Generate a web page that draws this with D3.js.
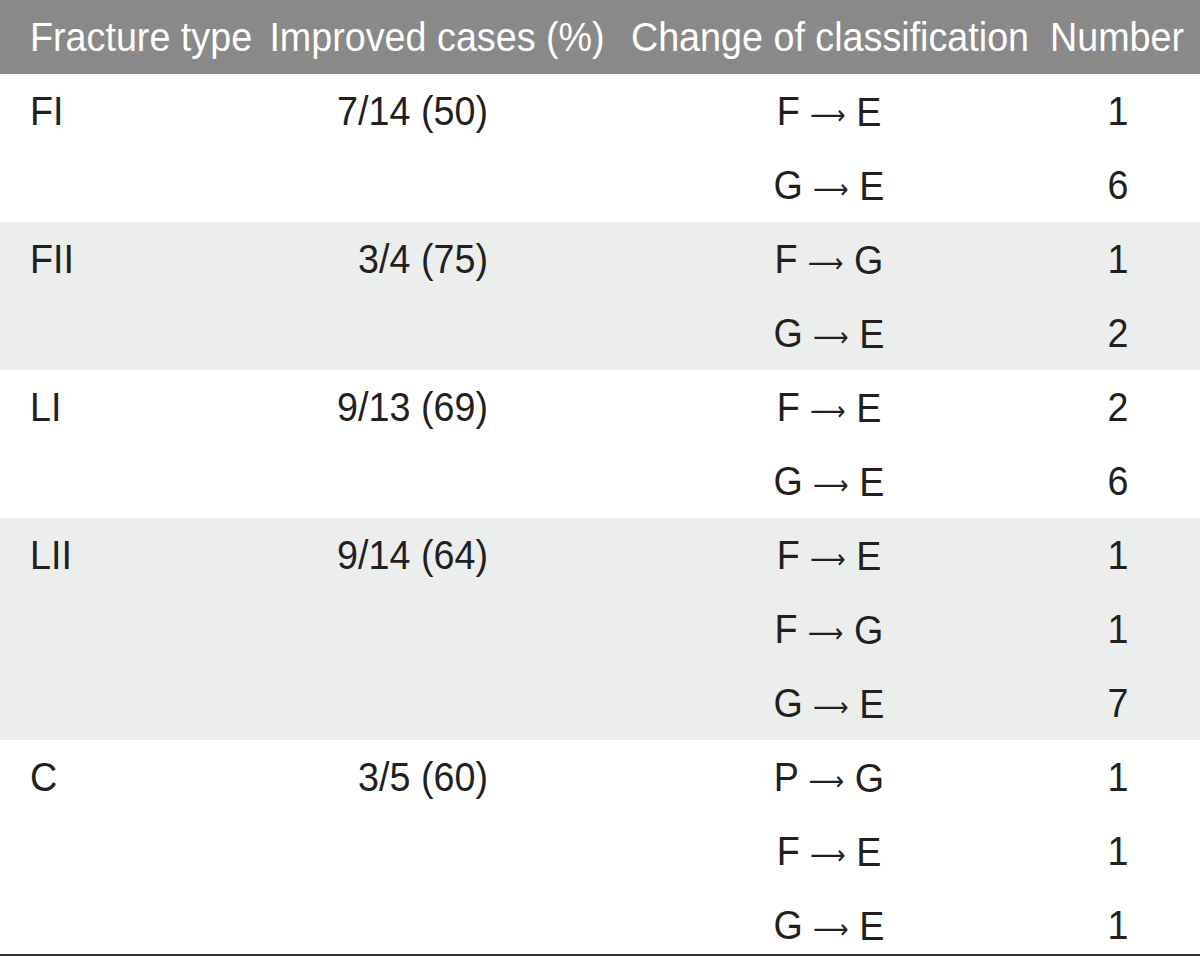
<!DOCTYPE html>
<html>
<head>
<meta charset="utf-8">
<script src="https://cdn.jsdelivr.net/npm/d3@7"></script>
<style>
  body { margin: 0; background: #fff; }
  text { font-family: "Liberation Sans", Arial, sans-serif; }
</style>
</head>
<body>
<svg id="chart"></svg>
<script>
const width = 1200;
const height = 956;

// table data
const headers = ["Fracture type", "Improved cases (%)", "Change of classification", "Number"];
const groups = ["FI", "FII", "LI", "LII", "C"];
const improved = ["7/14 (50)", "3/4 (75)", "9/13 (69)", "9/14 (64)", "3/5 (60)"];
const rowGroup = ["FI", "FI", "FII", "FII", "LI", "LI", "LII", "LII", "LII", "C", "C", "C"];
const changeFrom = ["F", "G", "F", "G", "F", "G", "F", "F", "G", "P", "F", "G"];
const changeTo = ["E", "E", "G", "E", "E", "E", "E", "G", "E", "G", "E", "E"];
const numbers = [1, 6, 1, 2, 2, 6, 1, 1, 7, 1, 1, 1];

const headerH = 74;
const rowH = 74;
const fontSize = 41;
const squeeze = 0.92;   // the original typeface is a bit narrower than Liberation Sans
const textColor = "#231f20";

const svg = d3.select("#chart")
    .attr("width", width)
    .attr("height", height);

const y = d3.scaleBand()
    .domain(d3.range(changeFrom.length))
    .range([headerH, headerH + rowH * changeFrom.length]);

function cell(x, yc, anchor, color) {
    return svg.append("text")
        .attr("transform", `translate(${x},${yc}) scale(${squeeze},1)`)
        .attr("dy", "0.35em")
        .attr("text-anchor", anchor)
        .attr("fill", color)
        .attr("font-size", fontSize);
}

// header band
svg.append("rect")
    .attr("x", 0).attr("y", 0)
    .attr("width", width).attr("height", headerH)
    .attr("fill", "#898989");

const headerX = [30, 437, 830, 1117];
const headerAnchor = ["start", "middle", "middle", "middle"];
headers.forEach((h, i) => {
    cell(headerX[i], headerH / 2, headerAnchor[i], "#fff").text(h);
});

// group bands (alternating)
groups.forEach((g, gi) => {
    const idx = rowGroup.map((r, i) => r === g ? i : -1).filter(i => i >= 0);
    const y0 = y(idx[0]);
    const y1 = gi === groups.length - 1 ? 954 : y(idx[idx.length - 1]) + y.bandwidth();
    svg.append("rect")
        .attr("x", 0).attr("y", y0)
        .attr("width", width).attr("height", y1 - y0)
        .attr("fill", gi % 2 === 1 ? "#ebeeed" : "#fff");
});

groups.forEach((g, gi) => {
    const first = rowGroup.indexOf(g);
    const yc = y(first) + y.bandwidth() / 2;
    cell(30, yc, "start", textColor).text(g);
    cell(488, yc, "end", textColor).text(improved[gi]);
});

// change rows
changeFrom.forEach((f, i) => {
    const yc = y(i) + y.bandwidth() / 2;
    const t = cell(829, yc, "middle", textColor);
    t.append("tspan").text(f + " ");
    t.append("tspan")
        .attr("font-family", "DejaVu Sans")
        .attr("font-size", 27)
        .attr("dy", "-0.05em")
        .text("\u27F6");
    t.append("tspan").attr("dy", "0.04em").text(" " + changeTo[i]);

    cell(1118, yc, "middle", textColor).text(numbers[i]);
});

// bottom rule
svg.append("line")
    .attr("x1", 0).attr("x2", width)
    .attr("y1", 955).attr("y2", 955)
    .attr("stroke", "#333")
    .attr("stroke-width", 2);
</script>
</body>
</html>
